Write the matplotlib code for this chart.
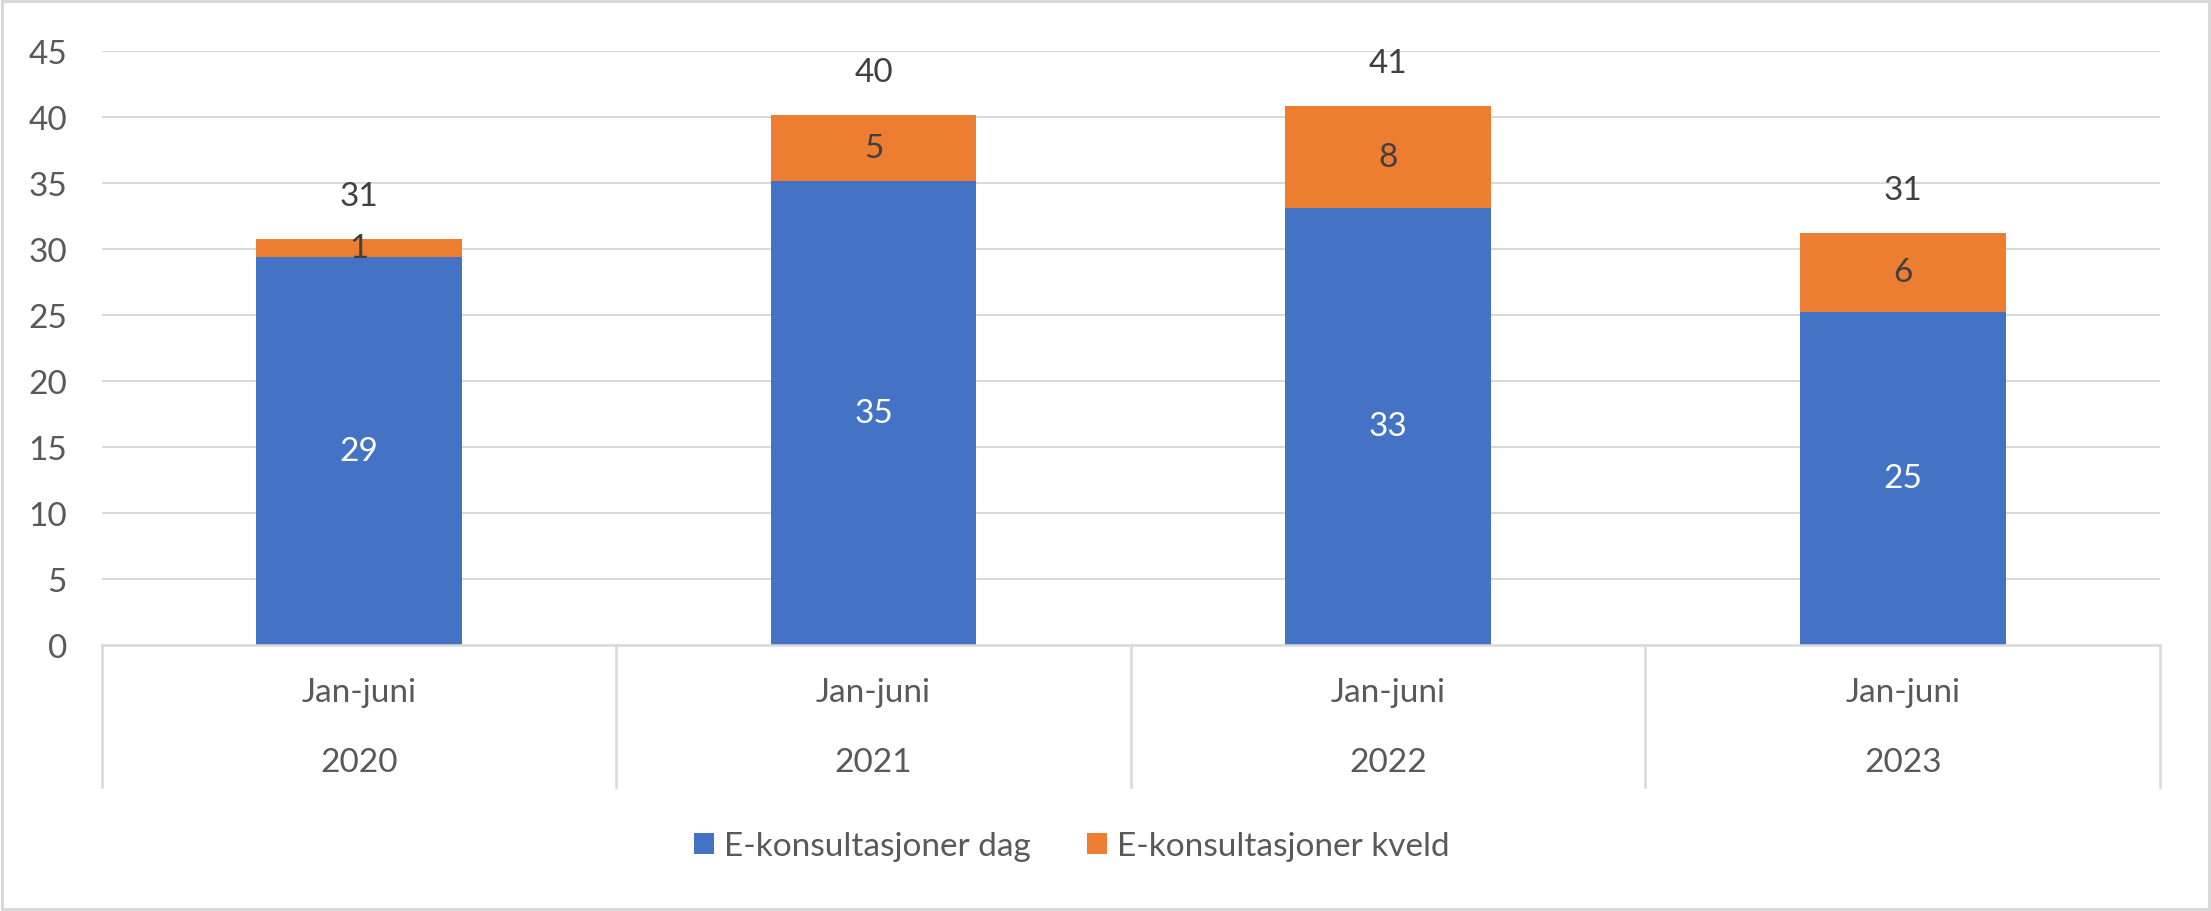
import matplotlib
matplotlib.use("Agg")
import matplotlib.pyplot as plt
from matplotlib.patches import Rectangle, Patch
import matplotlib.transforms as mtransforms

periods = ["Jan-juni", "Jan-juni", "Jan-juni", "Jan-juni"]
years = ["2020", "2021", "2022", "2023"]
dag = [29.4, 35.1, 33.1, 25.2]
kveld = [1.3, 5.0, 7.7, 6.0]
dag_labels = ["29", "35", "33", "25"]
kveld_labels = ["1", "5", "8", "6"]
total_labels = ["31", "40", "41", "31"]
series_names = ["E-konsultasjoner dag", "E-konsultasjoner kveld"]
yticks = [0, 5, 10, 15, 20, 25, 30, 35, 40, 45]

BLUE = "#4472C4"
ORANGE = "#ED7D31"
GRID = "#D9D9D9"
AXTXT = "#595959"
LBLTXT = "#404040"
FS = 24

plt.rcParams['font.family'] = ['Lato', 'DejaVu Sans']

W, H = 2211, 912
fig = plt.figure(figsize=(W / 100, H / 100), dpi=100)
left, right, bottom_px, top_px = 101.7, 2160, 645.7, 51.7
ax = fig.add_axes([left / W, (H - bottom_px) / H, (right - left) / W, (bottom_px - top_px) / H])

x = list(range(len(years)))
ax.bar(x, dag, width=0.4, color=BLUE, zorder=3)
ax.bar(x, kveld, width=0.4, bottom=dag, color=ORANGE, zorder=3)

ax.set_xlim(-0.5, len(years) - 0.5)
ax.set_ylim(0, 45)
ax.set_yticks(yticks)
ax.set_yticklabels([str(t) for t in yticks], fontsize=FS, color=AXTXT)
ax.tick_params(axis='y', length=0, pad=25)
ax.set_xticks([])
for s in ax.spines.values():
    s.set_visible(False)

for t in yticks[1:]:
    ax.axhline(t, color=GRID, lw=1.5, zorder=1)

# category axis box
trans = mtransforms.blended_transform_factory(ax.transData, ax.transAxes)
box_bottom = (bottom_px - 788) / (bottom_px - top_px)
ax.plot([-0.5, len(years) - 0.5], [0, 0], transform=trans, color=GRID, lw=1.8, clip_on=False, zorder=4)
for e in range(len(years) + 1):
    xe = e - 0.5
    ax.plot([xe, xe], [0, box_bottom], transform=trans, color=GRID, lw=1.8, clip_on=False)

y1 = (bottom_px - 693) / (bottom_px - top_px)
y2 = (bottom_px - 763) / (bottom_px - top_px)
for i in x:
    ax.text(i, y1, periods[i], transform=trans, ha='center', va='center', fontsize=FS, color=AXTXT)
    ax.text(i, y2, years[i], transform=trans, ha='center', va='center', fontsize=FS, color=AXTXT)

for i in x:
    ax.text(i, dag[i] / 2, dag_labels[i], ha='center', va='center', fontsize=FS, color='white', zorder=5)
    ax.text(i, dag[i] + kveld[i] / 2, kveld_labels[i], ha='center', va='center', fontsize=FS, color=LBLTXT, zorder=5)
    ax.annotate(total_labels[i], xy=(i, dag[i] + kveld[i]), xytext=(0, 43 * 0.72),
                textcoords='offset points', ha='center', va='center', fontsize=FS, color=LBLTXT, zorder=5)

handles = [Patch(facecolor=BLUE, edgecolor='none'), Patch(facecolor=ORANGE, edgecolor='none')]
fig.legend(handles, series_names, loc='center', bbox_to_anchor=(1072 / W, (H - 847) / H), ncol=2,
           frameon=False, fontsize=FS, labelcolor=AXTXT, handlelength=0.6, handleheight=0.6,
           handletextpad=0.3, columnspacing=1.7)

fig.patches.append(Rectangle((0.0007, 0.0017), 0.9986, 0.9966, transform=fig.transFigure,
                             fill=False, edgecolor=GRID, lw=2.2))

fig.savefig("out.png", dpi=100, facecolor='white')
